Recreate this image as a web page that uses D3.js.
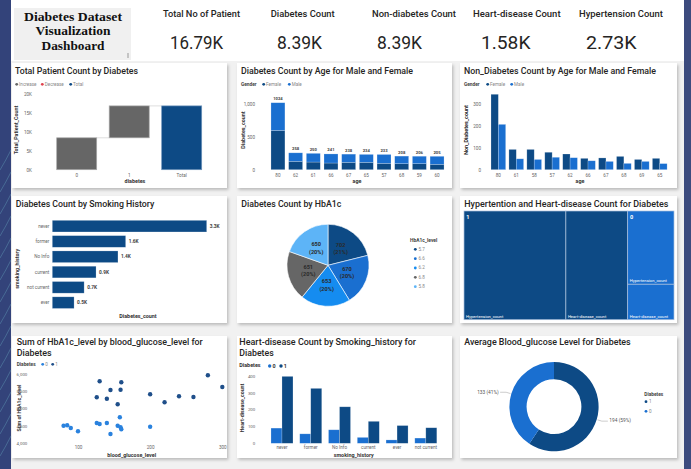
<!DOCTYPE html>
<meta charset='utf-8'>
<style>
body { margin: 0; background: #f1f1f1; }
svg { display: block; font-family: 'Roboto', 'Noto Sans', sans-serif; }
</style>
<body>
<script src='https://cdn.jsdelivr.net/npm/d3@7'></script>
<script>
// ---- data ----
var kpiLabels = ['Total No of Patient', 'Diabetes Count', 'Non-diabetes Count', 'Heart-disease Count', 'Hypertension Count'];
var kpiValues = ['16.79K', '8.39K', '8.39K', '1.58K', '2.73K'];

var wfCats = ['0', '1', 'Total'];
var wfSteps = [8393, 8397];

var ageDiab = ['80', '62', '61', '66', '67', '65', '57', '68', '59', '60'];
var diabFemale = [600, 128, 117, 102, 112, 112, 97, 92, 92, 82];
var diabTotal = [1024, 258, 250, 241, 238, 234, 233, 208, 206, 205];

var ageNon = ['80', '61', '58', '57', '62', '66', '67', '68', '69', '65'];
var nonFemale = [346, 93, 93, 80, 72, 52, 54, 61, 47, 52];
var nonMale = [208, 50, 47, 57, 55, 41, 38, 29, 38, 28];

var smokeCats = ['never', 'former', 'No Info', 'current', 'not current', 'ever'];
var smokeDiab = [3346, 1590, 1423, 948, 690, 472];

var hbaLevels = ['5.7', '6.6', '6.2', '6.8', '5.8'];
var hbaCounts = [702, 670, 653, 651, 650];

var tmGroups = ['1', '0'];
var tmHyp = [2090, 640];
var tmHeart = [1268, 310];

var glucose0 = [80, 85, 90, 100, 126, 130, 140, 145, 155, 158, 159, 160, 200];
var hbaSum0 = [4497, 4509, 4430, 4333, 4576, 4547, 4576, 4254, 4497, 4743, 4450, 4392, 4468];
var glucose1 = [126, 130, 140, 145, 155, 159, 160, 200, 220, 240, 260, 280, 300];
var hbaSum1 = [5328, 5795, 5287, 5541, 5123, 5550, 5766, 5415, 5181, 5357, 5336, 5971, 5629];

var hdCats = ['never', 'former', 'No Info', 'current', 'ever', 'not current'];
var hd0 = [90, 56, 80, 35, 20, 31];
var hd1 = [396, 325, 216, 130, 105, 92];

var bgCats = ['1', '0'];
var bgAvg = [194, 133];

// ---- colours ----
var navy = '#0d4a85', blue = '#1a6fd0', bright = '#158cf0', grey = '#666666', light = '#5db4f7';
var ink = '#252423', soft = '#666';

var W = 691, H = 469;
var svg = d3.select('body').append('svg').attr('width', W).attr('height', H);

var filt = svg.append('defs').append('filter').attr('id', 'sh')
    .attr('x', '-5%').attr('y', '-5%').attr('width', '112%').attr('height', '115%');
filt.append('feDropShadow').attr('dx', 1.5).attr('dy', 2).attr('stdDeviation', 1.4)
    .attr('flood-color', '#000').attr('flood-opacity', 0.22);

// background, header strip, side strips
svg.append('rect').attr('width', W).attr('height', H).attr('fill', '#f1f1f1');
svg.append('rect').attr('x', 11).attr('width', 673).attr('height', 61).attr('fill', '#fff');
svg.append('rect').attr('width', 11).attr('height', H).attr('fill', '#33437a');
svg.append('rect').attr('x', 684).attr('width', 7).attr('height', H).attr('fill', '#3c4b7e');
for (var i = 0; i < 14; i++) {
  svg.append('path')
    .attr('d', 'M0,' + (170 + i * 22) + ' Q6,' + (160 + i * 22) + ' 11,' + (150 + i * 22))
    .attr('stroke', '#7fd3e0').attr('stroke-opacity', 0.35).attr('stroke-width', 0.8).attr('fill', 'none');
}

function text(g, x, y, s, size, o) {
  o = o || {};
  var t = g.append('text').attr('x', x).attr('y', y).text(s)
    .attr('font-size', size)
    .attr('fill', o.fill || ink)
    .attr('font-weight', o.weight || 400)
    .attr('text-anchor', o.anchor || 'start')
    .attr('dominant-baseline', o.base || 'middle');
  if (o.len) t.attr('textLength', o.len).attr('lengthAdjust', 'spacingAndGlyphs');
  if (o.rotate) t.attr('transform', 'rotate(-90,' + x + ',' + y + ')');
  if (o.family) t.attr('font-family', o.family);
  return t;
}

function card(x, y, w, h) {
  svg.append('rect').attr('x', x).attr('y', y).attr('width', w).attr('height', h)
    .attr('fill', '#fff').attr('filter', 'url(#sh)');
}

function tidy(g, size) {
  g.attr('font-family', null).attr('font-size', null);
  g.select('.domain').remove();
  g.selectAll('.tick line').remove();
  g.selectAll('text').attr('font-size', size || 4.8).attr('fill', soft);
}

function dot(x, y, c, r) {
  svg.append('circle').attr('cx', x).attr('cy', y).attr('r', r || 1.7).attr('fill', c);
}

// ---------- header ----------
svg.append('rect').attr('x', 14).attr('y', 8).attr('width', 117).attr('height', 52).attr('fill', '#f0f0f0');
svg.append('rect').attr('x', 127).attr('y', 53).attr('width', 2).attr('height', 5).attr('fill', '#c4c4c4');
var headLines = ['Diabetes Dataset', 'Visualization', 'Dashboard'];
var headLens = [98, 75, 63];
headLines.forEach(function(s, i) {
  text(svg, 73, 20.5 + i * 14.5, s, 13.5, {weight: 700, anchor: 'middle', base: 'auto', len: headLens[i],
    family: "'Liberation Serif', serif", fill: '#111'});
});

var kpiX = [201.5, 302.7, 414, 516.8, 621];
var kpiLabLen = [77, 64, 84, 87.6, 84];
var kpiValX = [196.5, 299.5, 399.5, 505.7, 611.3];
var kpiValLen = [53, 45, 45, 49.5, 50.6];
kpiLabels.forEach(function(s, i) {
  text(svg, kpiX[i], 17, s, 8.6, {weight: 500, anchor: 'middle', base: 'auto', len: kpiLabLen[i]});
  text(svg, kpiValX[i], 49, kpiValues[i], 18.5, {anchor: 'middle', base: 'auto', len: kpiValLen[i]});
});

// ---------- cards ----------
var colX = [12, 237, 460], colW = [215, 215, 217];
var rowY = [63, 196, 336], rowH = [125, 127, 122];
rowY.forEach(function(y, r) { colX.forEach(function(x, c) { card(x, y, colW[c], rowH[r]); }); });

function title(x, y, s, len) { text(svg, x, y, s, 9.8, {weight: 500, len: len}); }

// ---------- 1. waterfall ----------
title(15, 71.5, 'Total Patient Count by Diabetes', 123);
[['Increase', grey, 16.7], ['Decrease', '#e0434f', 42.3], ['Total', navy, 70.7]].forEach(function(l) {
  dot(l[2], 84.3, l[1], 1.4);
  text(svg, l[2] + 2.4, 84.5, l[0], 4.6, {fill: '#888'});
});
var y1 = d3.scaleLinear().domain([0, 20000]).range([169.7, 93.7]);
var x1 = d3.scaleBand().domain(wfCats).range([50.4, 208]).paddingInner(0.238).paddingOuter(0.12);
svg.append('g').attr('transform', 'translate(34,0)')
  .call(d3.axisLeft(y1).tickValues([0, 5000, 10000, 15000, 20000]).tickSize(0).tickPadding(2)
    .tickFormat(function(d) { return d / 1000 + 'K'; }))
  .call(tidy, 4.6);
var wf = [], run = 0;
wfSteps.forEach(function(v, i) { wf.push({cat: wfCats[i], a: run, b: run + v, total: false}); run += v; });
wf.push({cat: 'Total', a: 0, b: run, total: true});
wf.forEach(function(d, i) {
  if (i < wf.length - 1) {
    svg.append('line').attr('x1', x1(d.cat) + x1.bandwidth()).attr('x2', x1(wf[i + 1].cat))
      .attr('y1', y1(d.b)).attr('y2', y1(d.b)).attr('stroke', '#d6d6d6').attr('stroke-width', 0.8);
  }
});
svg.selectAll('.wf').data(wf).enter().append('rect')
  .attr('x', function(d) { return x1(d.cat); })
  .attr('y', function(d) { return y1(d.b); })
  .attr('width', x1.bandwidth())
  .attr('height', function(d) { return y1(d.a) - y1(d.b); })
  .attr('fill', function(d) { return d.total ? navy : grey; })
  .attr('stroke', function(d) { return d.total ? '#6e93bb' : '#a8a8a8'; }).attr('stroke-width', 0.7);
wfCats.forEach(function(c) { text(svg, x1(c) + x1.bandwidth() / 2, 175.3, c, 4.6, {anchor: 'middle', fill: soft}); });
text(svg, 135, 181.5, 'diabetes', 5.4, {anchor: 'middle', weight: 700, fill: '#333'});
text(svg, 17, 130, 'Total_Patient_Count', 5.4, {anchor: 'middle', weight: 700, fill: '#333', rotate: true});

// ---------- 2. diabetes by age, stacked ----------
title(241, 71.5, 'Diabetes Count by Age for Male and Female', 172);
function genderLegend(x0, xf, xm, y) {
  text(svg, x0, y + 0.2, 'Gender', 4.8, {weight: 700, fill: '#444'});
  dot(xf, y, navy, 1.4); text(svg, xf + 2.4, y + 0.2, 'Female', 4.6, {fill: '#888'});
  dot(xm, y, blue, 1.4); text(svg, xm + 2.4, y + 0.2, 'Male', 4.6, {fill: '#888'});
}
genderLegend(241, 263.7, 289.3, 84.3);
var x2 = d3.scaleBand().domain(ageDiab).range([269.2, 445.8]).paddingInner(0.21).paddingOuter(0.1);
var y2 = d3.scaleLinear().domain([0, 1000]).range([169.7, 104.3]);
svg.append('g').attr('transform', 'translate(257,0)')
  .call(d3.axisLeft(y2).tickValues([0, 500, 1000]).tickSize(0).tickPadding(2)).call(tidy, 4.6);
var rows2 = ageDiab.map(function(a, i) { return {age: a, Female: diabFemale[i], Male: diabTotal[i] - diabFemale[i]}; });
var stack2 = d3.stack().keys(['Female', 'Male'])(rows2);
stack2.forEach(function(layer) {
  svg.selectAll('.s2' + layer.key).data(layer).enter().append('rect')
    .attr('x', function(d) { return x2(d.data.age); })
    .attr('y', function(d) { return y2(d[1]); })
    .attr('width', x2.bandwidth())
    .attr('height', function(d) { return y2(d[0]) - y2(d[1]); })
    .attr('fill', layer.key === 'Female' ? navy : blue)
    .attr('stroke', '#fff').attr('stroke-opacity', 0.35).attr('stroke-width', 0.6);
});
ageDiab.forEach(function(a, i) {
  var cx = x2(a) + x2.bandwidth() / 2;
  text(svg, cx, y2(diabTotal[i]) - 3.6, diabTotal[i], 4.2, {anchor: 'middle', weight: 700, fill: '#444'});
  text(svg, cx, 175.3, a, 4.6, {anchor: 'middle', fill: soft});
});
text(svg, 357, 182, 'age', 5.4, {anchor: 'middle', weight: 700, fill: '#333'});
text(svg, 244, 130, 'Diabetes_count', 5.4, {anchor: 'middle', weight: 700, fill: '#333', rotate: true});

// ---------- 3. non-diabetes by age, grouped ----------
title(464, 71.5, 'Non_Diabetes Count by Age for Male and Female', 192);
genderLegend(464, 487.7, 511.7, 84.3);
var x3 = d3.scaleBand().domain(ageNon).range([489.2, 668.9]).paddingInner(0.18).paddingOuter(0.1);
var x3s = d3.scaleBand().domain(['Female', 'Male']).range([0, x3.bandwidth()]);
var y3 = d3.scaleLinear().domain([0, 300]).range([169.7, 104.3]);
svg.append('g').attr('transform', 'translate(483,0)')
  .call(d3.axisLeft(y3).tickValues([0, 100, 200, 300]).tickSize(0).tickPadding(2)).call(tidy, 4.6);
ageNon.forEach(function(a, i) {
  [['Female', nonFemale[i], navy], ['Male', nonMale[i], blue]].forEach(function(b) {
    svg.append('rect').attr('x', x3(a) + x3s(b[0])).attr('y', y3(b[1]))
      .attr('width', x3s.bandwidth()).attr('height', y3(0) - y3(b[1]))
      .attr('fill', b[2]).attr('stroke', '#fff').attr('stroke-opacity', 0.35).attr('stroke-width', 0.6);
  });
  text(svg, x3(a) + x3.bandwidth() / 2, 175.3, a, 4.6, {anchor: 'middle', fill: soft});
});
text(svg, 580, 182, 'age', 5.4, {anchor: 'middle', weight: 700, fill: '#333'});
text(svg, 467, 130, 'Non_Diabetes_count', 5.4, {anchor: 'middle', weight: 700, fill: '#222', rotate: true});

// ---------- 4. smoking history, horizontal bars ----------
title(15.7, 204.3, 'Diabetes Count by Smoking History', 138.6);
var y4 = d3.scaleBand().domain(smokeCats).range([218.5, 310.3]).paddingInner(0.24).paddingOuter(0.12);
var x4 = d3.scaleLinear().domain([0, 3500]).range([52.3, 213.8]);
svg.append('g').attr('transform', 'translate(51.3,0)')
  .call(d3.axisLeft(y4).tickSize(0).tickPadding(2)).call(tidy, 4.6);
svg.selectAll('.b4').data(smokeCats).enter().append('rect')
  .attr('x', x4(0))
  .attr('y', function(d) { return y4(d); })
  .attr('width', function(d, i) { return x4(smokeDiab[i]) - x4(0); })
  .attr('height', y4.bandwidth())
  .attr('fill', navy).attr('stroke', '#fff').attr('stroke-opacity', 0.35).attr('stroke-width', 0.6);
smokeCats.forEach(function(c, i) {
  text(svg, x4(smokeDiab[i]) + 3, y4(c) + y4.bandwidth() / 2 + 0.3, d3.format('.1f')(smokeDiab[i] / 1000) + 'K', 4.8,
    {weight: 700, fill: '#444'});
});
text(svg, 138, 317, 'Diabetes_count', 5.4, {anchor: 'middle', weight: 700, fill: '#333'});
text(svg, 18, 268.7, 'smoking_history', 5.4, {anchor: 'middle', weight: 700, fill: '#333', rotate: true});

// ---------- 5. pie by HbA1c ----------
title(241.3, 204.3, 'Diabetes Count by HbA1c', 100);
var pieCols = [navy, blue, bright, grey, light];
var pie5 = d3.pie().sort(null)(hbaCounts);
var arc5 = d3.arc().innerRadius(0).outerRadius(41);
var g5 = svg.append('g').attr('transform', 'translate(328,265.3)');
var hbaTotal = d3.sum(hbaCounts);
pie5.forEach(function(p, i) {
  g5.append('path').attr('d', arc5(p)).attr('fill', pieCols[i]).attr('stroke', '#fff').attr('stroke-width', 0.6);
  var c = arc5.centroid(p);
  text(g5, c[0], c[1] - 3.8, hbaCounts[i], 5.6, {anchor: 'middle', weight: 700, fill: '#2a2a2a'});
  text(g5, c[0], c[1] + 3.6, '(' + Math.round(hbaCounts[i] / hbaTotal * 100) + '%)', 5.6,
    {anchor: 'middle', weight: 700, fill: '#2a2a2a'});
});
text(svg, 410, 241, 'HbA1c_level', 4.9, {weight: 700, fill: '#444'});
hbaLevels.forEach(function(l, i) {
  dot(415.3, 249.3 + i * 9.35, pieCols[i], 1.4);
  text(svg, 418.5, 249.5 + i * 9.35, l, 4.6, {fill: '#888'});
});

// ---------- 6. treemap ----------
title(464.3, 204.3, 'Hypertention and Heart-disease Count for Diabetes', 204);
var tmRoot = d3.hierarchy({children: tmGroups.map(function(g, i) {
  return {name: g, children: [{name: 'Hypertension_count', value: tmHyp[i]}, {name: 'Heart-disease_count', value: tmHeart[i]}]};
})}).sum(function(d) { return d.value || 0; });
d3.treemap().size([210, 108.7]).tile(function(node, x0, y0, x1, y1) {
  var t = (node.depth === 0 || node.data.name === '1') ? d3.treemapDice : d3.treemapSlice;
  t(node, x0, y0, x1, y1);
})(tmRoot);
var g6 = svg.append('g').attr('transform', 'translate(464,211)');
tmRoot.leaves().forEach(function(l) {
  g6.append('rect').attr('x', l.x0).attr('y', l.y0).attr('width', l.x1 - l.x0).attr('height', l.y1 - l.y0)
    .attr('fill', l.parent.data.name === '1' ? navy : blue)
    .attr('stroke', '#a9bfdc').attr('stroke-width', 0.7);
  text(g6, l.x0 + 2, l.y1 - 3.2, l.data.name, 4.2, {fill: '#fff'});
});
tmRoot.children.forEach(function(g) {
  text(g6, g.x0 + 2.3, g.y0 + 6.5, g.data.name, 5.6, {fill: '#fff', weight: 700});
});

// ---------- 7. scatter ----------
text(svg, 16.7, 342.3, 'Sum of HbA1c_level by blood_glucose_level for', 9.8, {weight: 500, len: 186});
text(svg, 16.7, 353.2, 'Diabetes', 9.8, {weight: 500, len: 35});
var sc0 = '#2a82de', sc1 = '#1f4f8a';
text(svg, 16.7, 364.5, 'Diabetes', 4.8, {weight: 700, fill: '#444'});
dot(42.7, 364.3, sc0, 1.4); text(svg, 45.3, 364.5, '0', 4.6, {fill: '#888'});
dot(52.7, 364.3, sc1, 1.4); text(svg, 55.3, 364.5, '1', 4.6, {fill: '#888'});
var x7 = d3.scaleLinear().domain([100, 300]).range([78, 222.3]);
var y7 = d3.scaleLinear().domain([4000, 6000]).range([442.7, 374.3]);
svg.append('g').attr('transform', 'translate(29,0)')
  .call(d3.axisLeft(y7).tickValues([4000, 4500, 5000, 5500, 6000]).tickSize(0).tickPadding(1.7)
    .tickFormat(d3.format(','))).call(tidy, 4.4);
svg.append('g').attr('transform', 'translate(0,445)')
  .call(d3.axisBottom(x7).tickValues([100, 200, 300]).tickSize(0).tickPadding(1)).call(tidy, 4.6);
glucose0.forEach(function(g, i) {
  svg.append('circle').attr('cx', x7(g)).attr('cy', y7(hbaSum0[i])).attr('r', 2.2).attr('fill', sc0);
});
glucose1.forEach(function(g, i) {
  svg.append('circle').attr('cx', x7(g)).attr('cy', y7(hbaSum1[i])).attr('r', 2.2).attr('fill', sc1);
});
text(svg, 131.7, 455.2, 'blood_glucose_level', 5.4, {anchor: 'middle', weight: 700, fill: '#333'});
text(svg, 20, 408, 'Sum of HbA1c_level', 5.2, {anchor: 'middle', weight: 700, fill: '#333', rotate: true});

// ---------- 8. heart disease by smoking ----------
text(svg, 239.3, 342.3, 'Heart-disease Count by Smoking_history for', 9.8, {weight: 500, len: 176.7});
text(svg, 239.3, 353.2, 'Diabetes', 9.8, {weight: 500, len: 34.4});
text(svg, 239.3, 366, 'Diabetes', 5.4, {weight: 700, fill: '#333'});
dot(269.7, 366, blue, 1.7); text(svg, 272.5, 366.2, '0', 5.4, {weight: 700, fill: '#333'});
dot(281, 366, navy, 1.7); text(svg, 283.8, 366.2, '1', 5.4, {weight: 700, fill: '#333'});
var x8 = d3.scaleBand().domain(hdCats).range([268.1, 439.7]).paddingInner(0.235).paddingOuter(0.1);
var x8s = d3.scaleBand().domain(['0', '1']).range([0, x8.bandwidth()]);
var y8 = d3.scaleLinear().domain([0, 400]).range([443.3, 375.7]);
svg.append('g').attr('transform', 'translate(257.3,0)')
  .call(d3.axisLeft(y8).tickValues([0, 100, 200, 300, 400]).tickSize(0).tickPadding(2)).call(tidy, 4.4);
hdCats.forEach(function(c, i) {
  [['0', hd0[i], blue], ['1', hd1[i], navy]].forEach(function(b) {
    svg.append('rect').attr('x', x8(c) + x8s(b[0])).attr('y', y8(b[1]))
      .attr('width', x8s.bandwidth()).attr('height', y8(0) - y8(b[1]))
      .attr('fill', b[2]).attr('stroke', '#fff').attr('stroke-opacity', 0.35).attr('stroke-width', 0.6);
  });
  text(svg, x8(c) + x8.bandwidth() / 2, 448.2, c, 4.6, {anchor: 'middle', fill: soft});
});
text(svg, 353.7, 455.2, 'smoking_history', 5.4, {anchor: 'middle', weight: 700, fill: '#333'});
text(svg, 242.7, 408, 'Heart-disease_count', 5.2, {anchor: 'middle', weight: 700, fill: '#333', rotate: true});

// ---------- 9. donut ----------
title(464.3, 342.3, 'Average Blood_glucose Level for Diabetes', 166.4);
var donCols = [navy, blue];
var pie9 = d3.pie().sort(null)(bgAvg);
var arc9 = d3.arc().innerRadius(27.4).outerRadius(44.6);
var g9 = svg.append('g').attr('transform', 'translate(554,406.7)');
var bgTotal = d3.sum(bgAvg);
pie9.forEach(function(p, i) {
  g9.append('path').attr('d', arc9(p)).attr('fill', donCols[i]);
  var a = (p.startAngle + p.endAngle) / 2;
  var sx = Math.sin(a), sy = -Math.cos(a);
  var r1 = 45.5, r2 = 50;
  var side = sx > 0 ? 1 : -1;
  var p2 = [sx * r2, sy * r2];
  var p3 = [p2[0] + side * 6, p2[1]];
  g9.append('polyline').attr('points', [[sx * r1, sy * r1], p2, p3].join(' '))
    .attr('fill', 'none').attr('stroke', '#aaa').attr('stroke-width', 0.6);
  text(g9, p3[0] + side * 1.5, p3[1], bgAvg[i] + ' (' + Math.round(bgAvg[i] / bgTotal * 100) + '%)', 4.8,
    {anchor: side > 0 ? 'start' : 'end', fill: '#555'});
});
text(svg, 644.3, 394.3, 'Diabetes', 4.8, {weight: 700, fill: '#444'});
bgCats.forEach(function(c, i) {
  dot(646, 401.7 + i * 9.6, donCols[i], 1.4);
  text(svg, 649, 401.9 + i * 9.6, c, 4.6, {fill: '#888'});
});
</script>
</body>
